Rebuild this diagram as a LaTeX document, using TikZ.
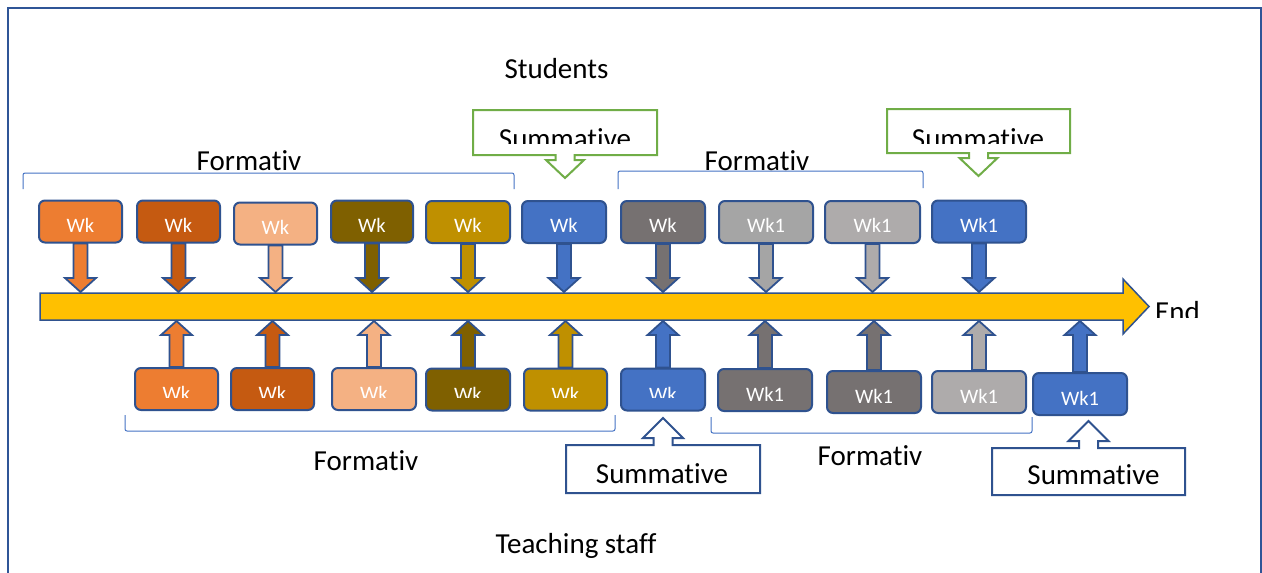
\documentclass[tikz,border=0pt]{standalone}
\usepackage{fontspec}
\setmainfont{Carlito}[Ligatures={NoCommon,NoContextual}]
\usetikzlibrary{calc}
\definecolor{outl}{HTML}{2F528F}
\definecolor{framec}{HTML}{2F5597}
\definecolor{brackc}{HTML}{4472C4}
\definecolor{greenc}{HTML}{70AD47}
\definecolor{barc}{HTML}{FFC000}
\definecolor{cA}{HTML}{ED7D31}
\definecolor{cB}{HTML}{C55A11}
\definecolor{cC}{HTML}{F4B183}
\definecolor{cD}{HTML}{7F6000}
\definecolor{cE}{HTML}{BF9000}
\definecolor{cF}{HTML}{4472C4}
\definecolor{cG}{HTML}{767171}
\definecolor{cH}{HTML}{A5A5A5}
\definecolor{cI}{HTML}{AEABAB}
\tikzset{
  wkbox/.style={draw=outl, line width=2pt, rounded corners=6pt, minimum height=42pt, inner sep=0pt},
  wktext/.style={text=white, font=\fontsize{20.5}{24}\selectfont, anchor=base, inner sep=0pt},
  lbl/.style={font=\fontsize{29}{34}\selectfont, anchor=base, inner sep=0pt},
  brack/.style={draw=brackc, line width=1pt, rounded corners=2pt},
  blk/.style={draw=outl, line width=1.8pt, line join=miter},
  callbox/.style={inner sep=0pt, outer sep=0pt},
}
\newcommand\arrdown[3]{%
  \path[blk, fill=#1] let \p1=(#2), \p2=(#3) in
   ({\x2-7pt},\y1) -- ({\x2-7pt},{\y2+14pt}) -- ({\x2-15.5pt},{\y2+14pt}) -- (\x2,\y2)
   -- ({\x2+15.5pt},{\y2+14pt}) -- ({\x2+7pt},{\y2+14pt}) -- ({\x2+7pt},\y1) -- cycle;}
\newcommand\arrup[3]{%
  \path[blk, fill=#1] let \p1=(#2), \p2=(#3) in
   ({\x2-7pt},\y1) -- ({\x2-7pt},{\y2-14pt}) -- ({\x2-15.5pt},{\y2-14pt}) -- (\x2,\y2)
   -- ({\x2+15.5pt},{\y2-14pt}) -- ({\x2+7pt},{\y2-14pt}) -- ({\x2+7pt},\y1) -- cycle;}
\newcommand\calloutdown[2]{%
  \draw[draw=#2, line width=2pt, line join=miter] let \p1=(#1.north west), \p2=(#1.south east), \p3=(#1.south) in
   (\p1) -- (\x2,\y1) -- (\p2) -- ({\x3+9.5pt},\y2) -- ({\x3+9.5pt},{\y2-5pt}) -- ({\x3+19pt},{\y2-5pt})
   -- (\x3,{\y2-23pt}) -- ({\x3-19pt},{\y2-5pt}) -- ({\x3-9.5pt},{\y2-5pt}) -- ({\x3-9.5pt},\y2) -- (\x1,\y2) -- cycle;}
\newcommand\calloutup[2]{%
  \draw[draw=#2, line width=2pt, line join=miter] let \p1=(#1.north west), \p2=(#1.south east), \p3=(#1.north) in
   (\x1,\y2) -- (\p2) -- (\x2,\y1) -- ({\x3+9.5pt},\y1) -- ({\x3+9.5pt},{\y1+7pt}) -- ({\x3+20pt},{\y1+7pt})
   -- (\x3,{\y1+27pt}) -- ({\x3-20pt},{\y1+7pt}) -- ({\x3-9.5pt},{\y1+7pt}) -- ({\x3-9.5pt},\y1) -- (\p1) -- cycle;}
\begin{document}
\begin{tikzpicture}[x=1pt,y=-1pt]
\useasboundingbox (0,0) rectangle (1262,573);
\fill[white] (0,0) rectangle (1262,573);
% frame
\draw[framec, line width=2pt] (8,575) -- (8,8) -- (1260.5,8) -- (1260.5,575);

% timeline
\draw[fill=barc, draw=outl, line width=1.5pt, line join=miter]
  (40,293) -- (1123,293) -- (1123,279) -- (1149,306.5) -- (1123,334) -- (1123,320) -- (40,320) -- cycle;
\coordinate (bartop) at (0,292);
\coordinate (barbot) at (0,321);

% top row
\foreach \k/\xx/\yy/\w/\c/\t in {1/80.5/221.5/83/cA/Wk, 2/178.5/221.5/83/cB/Wk, 3/275.5/223.5/83/cC/Wk,
  4/372/221.5/82/cD/Wk, 5/468/222/84/cE/Wk, 6/564/222/84/cF/Wk, 7/663/222/84/cG/Wk,
  8/766/222/94/cH/Wk1, 9/872.5/222/95/cI/Wk1, 10/979/221.5/94/cF/Wk1} {
  \node[wkbox, minimum width=\w pt, fill=\c] (t\k) at (\xx,\yy) {};
  \node[wktext] (tl\k) at ([yshift=-10.5pt]t\k.center) {\t};
  \arrdown{\c}{t\k.south}{t\k.south |- bartop}
}

% bottom row
\foreach \k/\xx/\yy/\w/\c in {1/176.5/389/83/cA, 2/272.5/389/83/cB, 3/374/389/84/cC,
  4/468/389.5/84/cD, 5/565.5/389.5/83/cE, 6/663/389.5/84/cF, 7/765/390/94/cG,
  8/874/392/94/cG, 9/979/392/94/cI, 10/1080/394/94/cF} {
  \node[wkbox, minimum width=\w pt, fill=\c] (b\k) at (\xx,\yy) {};
  \arrup{\c}{b\k.north}{b\k.north |- barbot}
}
\begin{scope}
  \clip (100,350) rectangle (720,397);
  \foreach \k in {1,...,6} {
    \node[wktext] (bl\k) at ([yshift=-11.5pt]b\k.center) {Wk};
  }
\end{scope}
\foreach \k in {7,...,10} {
  \node[wktext] (bl\k) at ([yshift=-11pt]b\k.center) {Wk1};
}

% brackets
\draw[brack] (23,189) -- (23,173) -- (514,173) -- (514,189);
\draw[brack] (618,189) -- (618,171) -- (923,171) -- (923,188);
\draw[brack] (125,415) -- (125,431) -- (615,431) -- (615,415);
\draw[brack] (711,417) -- (711,433) -- (1032,433) -- (1032,417);

% labels
\node[lbl] (stud) at (556.5,78) {Students};
\node[lbl] (teach) at (576,553) {Teaching staff};
\node[lbl] (f1) at (249,170) {Formativ};
\node[lbl] (f2) at (757,170) {Formativ};
\node[lbl] (f3) at (366,470) {Formativ};
\node[lbl] (f4) at (870,465) {Formativ};
\begin{scope}
  \clip (1140,290) rectangle (1262,317);
  \node[lbl, anchor=base west] (endl) at (1155,321) {End};
\end{scope}

% summative callouts (top, green)
\node[callbox, minimum width=184pt, minimum height=45pt] (sc1) at (565,132.5) {};
\calloutdown{sc1}{greenc}
\node[callbox, minimum width=183pt, minimum height=44pt] (sc2) at (978.5,131) {};
\calloutdown{sc2}{greenc}
\begin{scope}
  \clip (470,100) rectangle (1080,143);
  \node[lbl] (sc1t) at (565,148) {Summative};
  \node[lbl] (sc2t) at (978,148) {Summative};
\end{scope}

% summative callouts (bottom, blue)
\node[callbox, minimum width=194pt, minimum height=48pt] (sb1) at (663,469) {};
\calloutup{sb1}{outl}
\node[callbox, minimum width=193pt, minimum height=47pt] (sb2) at (1088.5,471.5) {};
\calloutup{sb2}{outl}
\node[lbl] (sb1t) at (662,483) {Summative};
\node[lbl] (sb2t) at (1093.5,484) {Summative};
\end{tikzpicture}
\end{document}
